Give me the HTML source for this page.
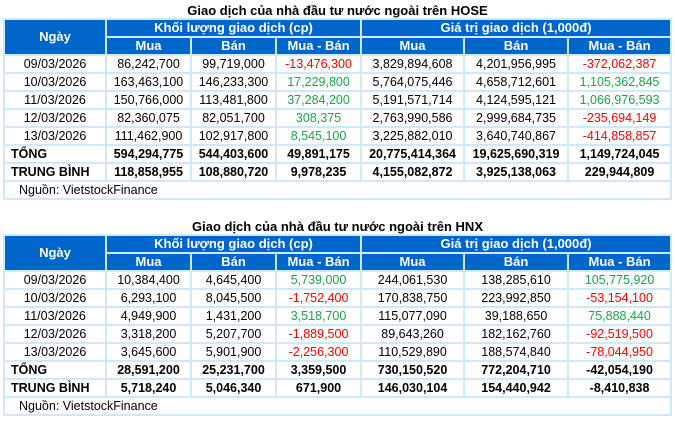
<!DOCTYPE html>
<html><head><meta charset="utf-8"><style>
body{margin:0;background:#fff;width:675px;height:421px;overflow:hidden;font-family:"Liberation Sans",Arial,sans-serif;}
.t{position:absolute;left:0;width:675px;text-align:center;font-weight:bold;font-size:13px;color:#000;}
table{position:absolute;left:3px;border-collapse:separate;border-spacing:2px;background:#cfe9f8;table-layout:fixed;width:669px;}
td{height:16px;padding:0;font-size:12.5px;text-align:center;background:#fff;line-height:16px;white-space:nowrap;color:#000;}
td.h{background:#0066cc;color:#fff;font-weight:bold;font-size:13px;}
.g{color:#1aa64a}.r{color:#f00}
tr.b td{font-weight:bold}
td.l{text-align:left;padding-left:6px}
td.src{text-align:left;padding-left:14px}
</style></head><body>
<div class="t" style="top:3px">Giao dịch của nhà đầu tư nước ngoài trên HOSE</div>
<table style="top:18px">
<colgroup><col style="width:100px"><col style="width:83px"><col style="width:83px"><col style="width:83px"><col style="width:101px"><col style="width:102px"><col style="width:101px"></colgroup>
<tr><td class="h" rowspan="2">Ngày</td><td class="h" colspan="3">Khối lượng giao dịch (cp)</td><td class="h" colspan="3">Giá trị giao dịch (1,000đ)</td></tr>
<tr><td class="h">Mua</td><td class="h">Bán</td><td class="h">Mua - Bán</td><td class="h">Mua</td><td class="h">Bán</td><td class="h">Mua - Bán</td></tr>
<tr><td>09/03/2026</td><td>86,242,700</td><td>99,719,000</td><td class="r">-13,476,300</td><td>3,829,894,608</td><td>4,201,956,995</td><td class="r">-372,062,387</td></tr>
<tr><td>10/03/2026</td><td>163,463,100</td><td>146,233,300</td><td class="g">17,229,800</td><td>5,764,075,446</td><td>4,658,712,601</td><td class="g">1,105,362,845</td></tr>
<tr><td>11/03/2026</td><td>150,766,000</td><td>113,481,800</td><td class="g">37,284,200</td><td>5,191,571,714</td><td>4,124,595,121</td><td class="g">1,066,976,593</td></tr>
<tr><td>12/03/2026</td><td>82,360,075</td><td>82,051,700</td><td class="g">308,375</td><td>2,763,990,586</td><td>2,999,684,735</td><td class="r">-235,694,149</td></tr>
<tr><td>13/03/2026</td><td>111,462,900</td><td>102,917,800</td><td class="g">8,545,100</td><td>3,225,882,010</td><td>3,640,740,867</td><td class="r">-414,858,857</td></tr>
<tr class="b"><td class="l">TỔNG</td><td>594,294,775</td><td>544,403,600</td><td>49,891,175</td><td>20,775,414,364</td><td>19,625,690,319</td><td>1,149,724,045</td></tr>
<tr class="b"><td class="l">TRUNG BÌNH</td><td>118,858,955</td><td>108,880,720</td><td>9,978,235</td><td>4,155,082,872</td><td>3,925,138,063</td><td>229,944,809</td></tr>
<tr><td class="src" colspan="7">Nguồn: VietstockFinance</td></tr>
</table>
<div class="t" style="top:219px">Giao dịch của nhà đầu tư nước ngoài trên HNX</div>
<table style="top:234px">
<colgroup><col style="width:100px"><col style="width:83px"><col style="width:83px"><col style="width:83px"><col style="width:101px"><col style="width:102px"><col style="width:101px"></colgroup>
<tr><td class="h" rowspan="2">Ngày</td><td class="h" colspan="3">Khối lượng giao dịch (cp)</td><td class="h" colspan="3">Giá trị giao dịch (1,000đ)</td></tr>
<tr><td class="h">Mua</td><td class="h">Bán</td><td class="h">Mua - Bán</td><td class="h">Mua</td><td class="h">Bán</td><td class="h">Mua - Bán</td></tr>
<tr><td>09/03/2026</td><td>10,384,400</td><td>4,645,400</td><td class="g">5,739,000</td><td>244,061,530</td><td>138,285,610</td><td class="g">105,775,920</td></tr>
<tr><td>10/03/2026</td><td>6,293,100</td><td>8,045,500</td><td class="r">-1,752,400</td><td>170,838,750</td><td>223,992,850</td><td class="r">-53,154,100</td></tr>
<tr><td>11/03/2026</td><td>4,949,900</td><td>1,431,200</td><td class="g">3,518,700</td><td>115,077,090</td><td>39,188,650</td><td class="g">75,888,440</td></tr>
<tr><td>12/03/2026</td><td>3,318,200</td><td>5,207,700</td><td class="r">-1,889,500</td><td>89,643,260</td><td>182,162,760</td><td class="r">-92,519,500</td></tr>
<tr><td>13/03/2026</td><td>3,645,600</td><td>5,901,900</td><td class="r">-2,256,300</td><td>110,529,890</td><td>188,574,840</td><td class="r">-78,044,950</td></tr>
<tr class="b"><td class="l">TỔNG</td><td>28,591,200</td><td>25,231,700</td><td>3,359,500</td><td>730,150,520</td><td>772,204,710</td><td>-42,054,190</td></tr>
<tr class="b"><td class="l">TRUNG BÌNH</td><td>5,718,240</td><td>5,046,340</td><td>671,900</td><td>146,030,104</td><td>154,440,942</td><td>-8,410,838</td></tr>
<tr><td class="src" colspan="7">Nguồn: VietstockFinance</td></tr>
</table>
</body></html>
